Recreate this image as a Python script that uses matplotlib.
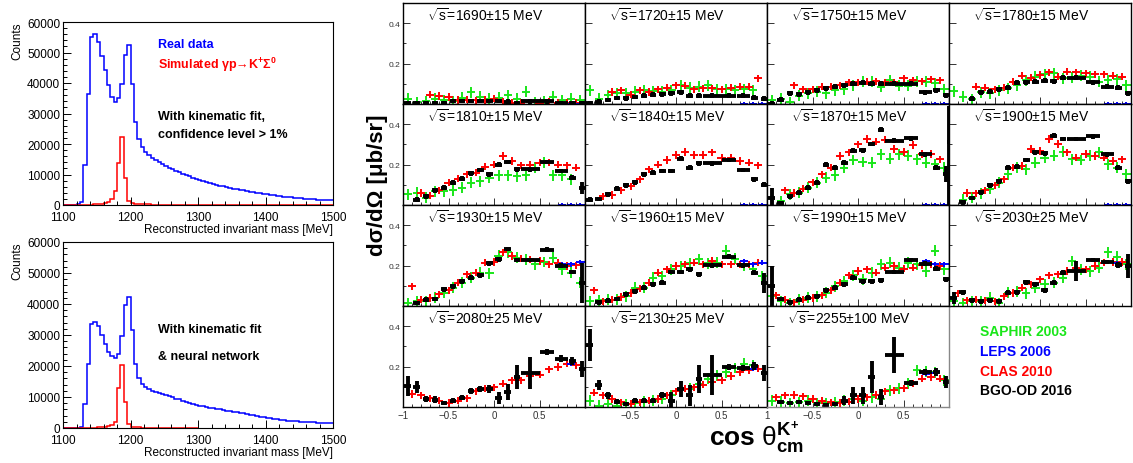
import numpy as np
import matplotlib
matplotlib.use("Agg")
import matplotlib.pyplot as plt
from matplotlib.ticker import MultipleLocator

plt.rcParams['font.family'] = ['Liberation Sans', 'DejaVu Sans']
plt.rcParams['mathtext.fontset'] = 'custom'
plt.rcParams['mathtext.rm'] = 'Liberation Sans'
plt.rcParams['mathtext.it'] = 'Liberation Sans:italic'
plt.rcParams['mathtext.bf'] = 'Liberation Sans:bold'

nan = np.nan

# ---------------- Left: invariant-mass histograms (5 MeV bins) ----------------
mass_edges = np.arange(1100, 1505, 5)
red_bottom_edges = np.arange(1100, 1305, 5)

real_top = [0, 0, 0, 0, 300, 1000, 13000, 36400, 55000, 56100, 53600, 49000, 44100, 39400, 35500,
            33900, 35100, 39600, 49200, 52300, 39700, 27300, 21800, 19100, 17400,
            16300, 15500, 14800, 14100, 13400, 12800, 12200, 11700, 11200, 10700, 10200, 9800, 9400, 9000, 8600,
            8200, 7850, 7500, 7200, 6900, 6600, 6350, 6100, 5850, 5600,
            5400, 5200, 5000, 4800, 4600, 4400, 4200, 4000, 3800, 3600,
            3450, 3300, 3150, 3000, 2900, 2750, 2650, 2500, 2400, 2300,
            2200, 2100, 2000, 1950, 1850, 1800, 1700, 1650, 1550, 1500]
sim_top = [0, 0, 0, 0, 0, 0, 0, 0,
           100, 200, 300, 400, 600, 1000, 2000, 4600, 13900, 22200, 8800, 1200, 500, 350, 250, 200,
           180, 170, 160, 150, 150, 140, 140, 130, 130, 120, 120, 110, 110, 100, 100, 100, 90, 90, 90, 80,
           80, 80, 70, 70, 70, 60, 60, 60, 60, 50, 50, 50, 50, 50, 40, 40, 40, 40, 40, 40,
           30, 30, 30, 30, 30, 30, 30, 30, 20, 20, 20, 20, 20, 20, 20, 20]
real_bottom = [0, 0, 0, 0, 100, 200, 7700, 20800, 33700, 34300, 32900, 30000, 27200, 24600, 23300,
               22500, 24000, 29700, 39600, 42400, 31700, 20600, 16000, 14200, 13100,
               12500, 12000, 11600, 11200, 10900, 10600, 10200, 9900, 9500, 9200, 8800, 8500, 8100, 7800, 7500,
               7200, 7000, 6800, 6600, 6400, 6200, 6000, 5800, 5600, 5450,
               5300, 5100, 4900, 4700, 4500, 4300, 4100, 3900, 3700, 3500,
               3300, 3150, 3000, 2850, 2700, 2550, 2400, 2300, 2200, 2100,
               2000, 1950, 1900, 1850, 1800, 1750, 1700, 1650, 1600, 1500]
sim_bottom = [0, 0, 0, 0, 0, 0, 0, 0,
              100, 150, 250, 350, 450, 600, 900, 2000, 12800, 20400, 8300, 1300, 400, 250, 200, 150,
              130, 120, 110, 100, 100, 90, 90, 80, 80, 70, 70, 60, 60, 50, 50, 50]

# ---------------- Right: differential cross sections ----------------
energies = ['1690±15', '1720±15', '1750±15', '1780±15',
            '1810±15', '1840±15', '1870±15', '1900±15',
            '1930±15', '1960±15', '1990±15', '2030±25',
            '2080±25', '2130±25', '2255±100']

clas_cos = [-0.9, -0.8, -0.7, -0.6, -0.5, -0.4, -0.3, -0.2, -0.1, 0.0,
            0.1, 0.2, 0.3, 0.4, 0.5, 0.6, 0.7, 0.8, 0.9]
saphir_cos = [-0.95, -0.85, -0.75, -0.65, -0.55, -0.45, -0.35, -0.25, -0.15, -0.05,
              0.05, 0.15, 0.25, 0.35, 0.45, 0.55, 0.65, 0.75, 0.85, 0.95]
leps_cos = [0.75, 0.85, 0.95]
bgood_cos = [-0.95, -0.85, -0.75, -0.65, -0.55, -0.45, -0.35, -0.25, -0.15, -0.05,
             0.05, 0.15, 0.25, 0.40, 0.58, 0.74, 0.86, 0.965]
bgood_hw = [0.035, 0.035, 0.035, 0.035, 0.035, 0.035, 0.035, 0.035, 0.035, 0.035,
            0.035, 0.035, 0.035, 0.10, 0.08, 0.07, 0.04, 0.03]

clas_1690 = [nan, nan, 0.047, 0.040, 0.035, 0.020, 0.022, 0.018, 0.020, 0.027, 0.012, 0.006, 0.005, 0.008, 0.005, 0.010, 0.006, 0.005, 0.005]
clas_1720 = [nan, nan, 0.060, 0.068, 0.047, 0.068, 0.060, 0.073, 0.080, 0.093, 0.090, 0.073, 0.077, 0.077, 0.073, 0.080, 0.085, 0.085, 0.127]
clas_1750 = [nan, nan, 0.093, 0.073, 0.073, 0.085, 0.085, 0.093, 0.107, 0.108, 0.110, 0.113, 0.107, 0.107, 0.127, 0.118, 0.113, 0.123, 0.118]
clas_1780 = [nan, nan, 0.085, 0.080, 0.073, 0.080, 0.110, 0.140, 0.130, 0.143, 0.157, 0.135, 0.160, 0.157, 0.152, 0.147, 0.147, 0.140, 0.135]
clas_1810 = [nan, 0.060, 0.047, 0.073, 0.110, 0.130, 0.152, 0.160, 0.190, 0.200, 0.243, 0.218, 0.197, 0.200, 0.210, 0.210, 0.200, 0.197, 0.185]
clas_1840 = [nan, 0.043, 0.050, 0.073, 0.093, 0.127, 0.177, 0.200, 0.223, 0.247, 0.263, 0.247, 0.247, 0.260, 0.235, 0.235, 0.218, 0.210, 0.197]
clas_1870 = [nan, 0.073, 0.060, 0.080, 0.113, 0.152, 0.185, 0.243, 0.260, 0.300, 0.327, 0.313, 0.323, 0.277, 0.263, 0.297, 0.252, 0.252, 0.227]
clas_1900 = [nan, 0.060, 0.057, 0.073, 0.097, 0.127, 0.185, 0.193, 0.277, 0.268, 0.327, 0.302, 0.260, 0.235, 0.252, 0.243, 0.235, 0.218, 0.227]
clas_1930 = [0.098, 0.032, 0.040, 0.057, 0.078, 0.115, 0.157, 0.165, 0.215, 0.218, 0.265, 0.248, 0.235, 0.232, 0.223, 0.207, 0.215, 0.198, 0.202]
clas_1960 = [0.078, 0.023, 0.032, 0.045, 0.065, 0.085, 0.115, 0.165, 0.182, 0.198, 0.207, 0.215, 0.207, 0.223, 0.207, 0.207, 0.207, 0.207, 0.215]
clas_1990 = [0.052, 0.032, 0.018, 0.032, 0.040, 0.052, 0.078, 0.115, 0.152, 0.173, 0.182, 0.165, 0.190, 0.198, 0.185, 0.190, 0.202, 0.207, 0.198]
clas_2030 = [0.062, 0.028, 0.032, 0.028, 0.023, 0.048, 0.065, 0.090, 0.107, 0.132, 0.152, 0.157, 0.173, 0.190, 0.182, 0.198, 0.215, 0.218, 0.218]
clas_2080 = [0.065, 0.057, 0.043, 0.032, 0.020, 0.032, 0.043, 0.077, 0.090, 0.098, 0.115, 0.132, 0.132, 0.153, 0.160, 0.187, 0.198, 0.215, 0.207]
clas_2130 = [0.070, 0.057, 0.040, 0.023, 0.015, 0.023, 0.032, 0.040, 0.057, 0.077, 0.090, 0.098, 0.110, 0.123, 0.132, 0.153, 0.173, 0.182, 0.190]
clas_2255 = [0.048, 0.057, 0.060, 0.053, 0.040, 0.032, 0.023, 0.020, 0.027, 0.040, 0.048, 0.060, 0.077, 0.082, 0.093, 0.115, 0.140, 0.148, 0.140]

saphir_1690 = [0.027, 0.010, 0.015, 0.027, 0.020, 0.015, 0.030, 0.057, 0.035, 0.027, 0.030, 0.043, 0.027, 0.060, 0.010, 0.015, 0.035, 0.018, 0.027, 0.018]
saphir_1720 = [0.068, 0.027, 0.043, 0.052, 0.052, 0.060, 0.068, 0.063, 0.060, 0.068, 0.093, 0.080, 0.085, 0.093, 0.073, 0.073, 0.068, 0.073, 0.068, nan]
saphir_1750 = [0.018, 0.027, 0.010, 0.040, 0.052, 0.060, 0.052, 0.068, 0.073, 0.093, 0.110, 0.110, 0.085, 0.118, 0.090, 0.090, 0.113, 0.110, 0.102, 0.073]
saphir_1780 = [0.063, 0.035, 0.023, 0.057, 0.052, 0.068, 0.077, 0.093, 0.118, 0.135, 0.147, 0.152, 0.127, 0.130, 0.140, 0.135, 0.110, 0.118, 0.123, 0.093]
saphir_1810 = [0.052, 0.060, 0.035, 0.068, 0.068, 0.073, 0.085, 0.110, 0.118, 0.135, 0.147, 0.147, 0.143, 0.147, 0.185, 0.210, 0.147, 0.147, 0.127, nan]
saphir_1840 = [nan] * 20
saphir_1870 = [nan, 0.018, 0.052, 0.060, 0.085, 0.110, 0.135, 0.147, 0.185, 0.223, 0.213, 0.210, 0.252, 0.230, 0.252, 0.243, 0.227, 0.210, 0.202, 0.185]
saphir_1900 = [nan, 0.027, 0.035, 0.057, 0.080, 0.110, 0.152, 0.185, 0.177, 0.210, 0.235, 0.243, 0.263, 0.227, 0.223, 0.243, 0.260, 0.202, 0.185, 0.152]
saphir_1930 = [0.015, 0.023, 0.023, 0.040, 0.065, 0.090, 0.115, 0.140, 0.165, 0.162, 0.248, 0.265, 0.240, 0.232, 0.207, 0.218, 0.240, 0.182, 0.165, 0.115]
saphir_1960 = [0.023, 0.028, 0.032, 0.032, 0.048, 0.090, 0.090, 0.140, 0.148, 0.182, 0.198, 0.212, 0.232, 0.212, 0.215, 0.273, 0.235, 0.202, 0.182, 0.148]
saphir_1990 = [0.048, 0.023, 0.015, 0.032, 0.040, 0.048, 0.065, 0.098, 0.123, 0.152, 0.132, 0.165, 0.207, 0.215, 0.190, 0.215, 0.207, 0.173, 0.273, 0.182]
saphir_2030 = [0.023, 0.015, 0.023, 0.023, 0.040, 0.015, 0.065, 0.073, 0.062, 0.090, 0.107, 0.115, 0.140, 0.223, 0.182, 0.173, 0.190, 0.265, 0.245, 0.207]
saphir_2080 = [nan] * 20
saphir_2130 = [0.032, 0.007, 0.015, 0.007, 0.015, 0.020, 0.027, 0.032, 0.040, 0.057, 0.090, 0.090, 0.115, 0.140, 0.157, 0.173, 0.193, 0.215, 0.207, nan]
saphir_2255 = [0.032, 0.027, 0.020, 0.023, 0.032, 0.020, 0.020, 0.023, 0.032, 0.040, 0.032, 0.048, 0.040, 0.082, 0.093, 0.115, 0.182, 0.177, 0.173, 0.132]

leps_1690 = [0.0, 0.0, 0.0]
leps_1720 = [0.0, 0.0, 0.0]
leps_1750 = [0.0, 0.0, 0.0]
leps_1780 = [0.0, 0.0, 0.0]
leps_1810 = [0.0, 0.0, 0.0]
leps_1840 = [0.0, 0.0, 0.0]
leps_1870 = [0.0, 0.0, 0.0]
leps_1900 = [0.0, 0.0, 0.0]
leps_1930 = [0.207, 0.207, 0.218]
leps_1960 = [0.223, 0.207, 0.215]
leps_1990 = [0.223, 0.207, 0.207]
leps_2030 = [0.218, 0.213, nan]
leps_2080 = [nan, 0.215, nan]
leps_2130 = [nan, 0.190, nan]
leps_2255 = [0.165, 0.170, nan]

bgood_1690 = [0.005, 0.005, 0.005, 0.005, 0.005, 0.015, 0.015, 0.015, 0.015, 0.015, 0.015, 0.012, 0.005, 0.013, 0.013, 0.005, 0.005, 0.005]
bgood_1720 = [0.005, 0.012, 0.020, 0.030, 0.028, 0.035, 0.042, 0.045, 0.048, 0.052, 0.057, 0.040, 0.040, 0.040, 0.040, 0.040, 0.032, 0.027]
bgood_1750 = [0.002, 0.022, 0.052, 0.048, 0.057, 0.068, 0.077, 0.085, 0.093, 0.100, 0.105, 0.100, 0.100, 0.100, 0.100, 0.057, 0.068, 0.043]
bgood_1780 = [nan, nan, 0.027, 0.057, 0.060, 0.073, 0.080, 0.105, 0.107, 0.110, 0.115, 0.112, 0.130, 0.130, 0.107, 0.085, 0.080, 0.052]
bgood_1810 = [nan, 0.027, 0.043, 0.073, 0.085, 0.110, 0.130, 0.157, 0.173, 0.152, 0.200, 0.213, 0.177, 0.177, 0.213, 0.168, 0.135, 0.085]
bgood_1840 = [0.027, 0.030, 0.052, 0.080, 0.097, 0.113, 0.152, 0.160, 0.168, 0.168, 0.230, 0.185, 0.207, 0.207, 0.223, 0.173, 0.127, 0.100]
bgood_1870 = [0.035, 0.010, 0.043, 0.060, 0.085, 0.110, 0.200, 0.185, 0.210, 0.268, 0.270, 0.302, 0.373, 0.318, 0.330, 0.252, 0.185, 0.152]
bgood_1900 = [nan, 0.013, 0.035, 0.063, 0.097, 0.118, 0.185, 0.190, 0.223, 0.260, 0.257, 0.343, 0.327, 0.327, 0.340, 0.252, 0.185, 0.118]
bgood_1930 = [nan, 0.015, 0.032, 0.035, 0.082, 0.098, 0.123, 0.140, 0.152, 0.212, 0.232, 0.282, 0.228, 0.228, 0.278, 0.200, 0.168, 0.115]
bgood_1960 = [nan, 0.018, 0.027, 0.035, 0.057, 0.073, 0.090, 0.107, 0.115, 0.168, 0.168, 0.182, 0.157, 0.202, 0.245, 0.202, 0.165, 0.115]
bgood_1990 = [0.100, 0.035, 0.018, 0.032, 0.040, 0.048, 0.078, 0.090, 0.107, 0.140, 0.123, 0.123, 0.128, 0.168, 0.228, 0.210, 0.185, 0.132]
bgood_2030 = [0.040, 0.068, 0.028, 0.023, 0.028, 0.023, 0.065, 0.068, 0.118, 0.107, 0.078, 0.115, 0.165, 0.173, 0.228, 0.218, 0.202, 0.198]
bgood_2080 = [0.103, 0.098, 0.040, 0.037, 0.020, 0.032, 0.045, 0.077, 0.090, 0.087, 0.043, 0.073, 0.148, 0.170, 0.270, 0.240, 0.227, 0.190]
bgood_2130 = [0.307, 0.107, 0.057, 0.027, 0.015, 0.032, 0.032, 0.032, 0.060, 0.032, 0.090, 0.057, 0.140, 0.157, 0.198, 0.193, 0.203, 0.170]
bgood_2255 = [nan, 0.027, 0.020, 0.023, 0.018, 0.015, 0.010, 0.015, 0.032, 0.057, 0.057, 0.148, 0.048, 0.257, 0.120, 0.173, 0.173, 0.123]

err_small = [0.012] * 18
err_1810 = [0.012] * 17 + [0.03]
err_1870 = [0.05] + [0.012] * 16 + [0.04]
err_1930 = [0.012] * 17 + [0.10]
err_1960 = [0.012] * 17 + [0.05]
err_1990 = [0.10] + [0.012] * 17
err_2030 = [0.03] + [0.012] * 12 + [0.05, 0.012, 0.012, 0.015, 0.06]
err_2080 = [0.05, 0.03, 0.015, 0.015, 0.012, 0.012, 0.012, 0.015, 0.015, 0.02, 0.03, 0.04, 0.06, 0.08, 0.015, 0.015, 0.02, 0.04]
err_2130 = [0.08, 0.025, 0.015, 0.012, 0.012, 0.012, 0.012, 0.012, 0.015, 0.04, 0.04, 0.05, 0.07, 0.10, 0.015, 0.015, 0.02, 0.04]
err_2255 = [0.01, 0.01, 0.01, 0.01, 0.01, 0.01, 0.01, 0.01, 0.02, 0.04, 0.04, 0.08, 0.04, 0.09, 0.015, 0.015, 0.02, 0.03]

# BGO-OD point sitting on the 1870/1900 pad boundary (large error)
edge_cos_1870 = [1.0]
edge_val_1870 = [0.31]
edge_lo_1870 = [0.31]
edge_hi_1870 = [0.18]

clas_list = [clas_1690, clas_1720, clas_1750, clas_1780, clas_1810, clas_1840, clas_1870, clas_1900,
             clas_1930, clas_1960, clas_1990, clas_2030, clas_2080, clas_2130, clas_2255]
saphir_list = [saphir_1690, saphir_1720, saphir_1750, saphir_1780, saphir_1810, saphir_1840, saphir_1870,
               saphir_1900, saphir_1930, saphir_1960, saphir_1990, saphir_2030, saphir_2080, saphir_2130, saphir_2255]
leps_list = [leps_1690, leps_1720, leps_1750, leps_1780, leps_1810, leps_1840, leps_1870, leps_1900,
             leps_1930, leps_1960, leps_1990, leps_2030, leps_2080, leps_2130, leps_2255]
bgood_list = [bgood_1690, bgood_1720, bgood_1750, bgood_1780, bgood_1810, bgood_1840, bgood_1870, bgood_1900,
              bgood_1930, bgood_1960, bgood_1990, bgood_2030, bgood_2080, bgood_2130, bgood_2255]
err_list = [err_small, err_small, err_small, err_small, err_1810, err_small, err_1870, err_small,
            err_1930, err_1960, err_1990, err_2030, err_2080, err_2130, err_2255]

legend_names = ['SAPHIR 2003', 'LEPS 2006', 'CLAS 2010', 'BGO-OD 2016']

GREEN = '#19e619'
BLUE = '#0000ff'
RED = '#ff0000'
BLACK = '#000000'

fig = plt.figure(figsize=(11.33, 4.64), dpi=100)
W, H = 1133.0, 464.0


def add_px(x0, y0, x1, y1):
    return fig.add_axes([x0 / W, 1 - y1 / H, (x1 - x0) / W, (y1 - y0) / H])


# ---- histograms ----
hist_specs = [
    ((63, 23, 333, 206), real_top, sim_top, mass_edges,
     [("Real data", BLUE, 52800), ("Simulated γp→K$^{\\mathbf{+}}$Σ$^{\\mathbf{0}}$", RED, 46300),
      ("With kinematic fit,", BLACK, 29200), ("confidence level > 1%", BLACK, 23300)]),
    ((63, 243, 333, 429), real_bottom, sim_bottom, red_bottom_edges,
     [("With kinematic fit", BLACK, 31900), ("& neural network", BLACK, 23200)]),
]
for box, real, sim, sim_edges, texts in hist_specs:
    ax = add_px(*box)
    ax.stairs(real, mass_edges, color=BLUE, linewidth=1.1, baseline=None)
    ax.stairs(sim, sim_edges, color=RED, linewidth=1.1, baseline=None)
    ax.set_xlim(1100, 1500)
    ax.set_ylim(0, 60000)
    ax.xaxis.set_major_locator(MultipleLocator(100))
    ax.xaxis.set_minor_locator(MultipleLocator(20))
    ax.yaxis.set_major_locator(MultipleLocator(10000))
    ax.yaxis.set_minor_locator(MultipleLocator(2000))
    ax.tick_params(which='both', direction='in', labelsize=8.5, width=0.7)
    ax.tick_params(axis='y', pad=2)
    ax.tick_params(axis='x', pad=4)
    ax.tick_params(which='major', length=6)
    ax.tick_params(which='minor', length=3)
    for s in ax.spines.values():
        s.set_linewidth(0.8)
    ax.set_xlabel('Reconstructed invariant mass [MeV]', loc='right', fontsize=8.5, labelpad=0)
    ax.set_ylabel('Counts', loc='top', fontsize=8.5, labelpad=3)
    for txt, col, yv in texts:
        ax.text(1240, yv, txt, color=col, fontsize=9, fontweight='bold', va='center', ha='left')

# ---- cross-section grid ----
col_x = [403, 585, 767, 949, 1131]
row_y = [4, 105, 206, 307, 408]
for i, lab in enumerate(energies):
    r, c = divmod(i, 4)
    ax = add_px(col_x[c], row_y[r], col_x[c + 1], row_y[r + 1])
    ax.set_xlim(-1, 1)
    ax.set_ylim(0, 0.5)
    ax.errorbar(saphir_cos, saphir_list[i], xerr=0.045, yerr=0.027, fmt='none',
                ecolor=GREEN, elinewidth=1.4, capsize=0)
    ax.errorbar(clas_cos, clas_list[i], xerr=0.045, yerr=0.018, fmt='none',
                ecolor=RED, elinewidth=1.4, capsize=0)
    ax.errorbar(leps_cos, leps_list[i], xerr=0.045, yerr=0.012, fmt='none',
                ecolor=BLUE, elinewidth=1.4, capsize=0)
    ax.errorbar(bgood_cos, bgood_list[i], xerr=bgood_hw, yerr=err_list[i], fmt='none',
                ecolor=BLACK, elinewidth=2.8, capsize=0)
    if lab.startswith('1870'):
        ax.errorbar(edge_cos_1870, edge_val_1870, yerr=[edge_lo_1870, edge_hi_1870], xerr=0.02,
                    fmt='none', ecolor=BLACK, elinewidth=2.8, capsize=0, clip_on=False, zorder=5)
    ax.text(0.45, 0.885, r'$\sqrt{\mathrm{s}}$=' + lab + ' MeV', transform=ax.transAxes,
            ha='center', va='center', fontsize=10)
    ax.xaxis.set_major_locator(MultipleLocator(0.5))
    ax.xaxis.set_minor_locator(MultipleLocator(0.1))
    ax.set_yticks([0.2, 0.4])
    ax.yaxis.set_minor_locator(MultipleLocator(0.1))
    ax.tick_params(which='both', direction='in', width=0.7, colors='#333333', pad=2)
    ax.tick_params(which='major', length=5)
    ax.tick_params(which='minor', length=2.5)
    ax.tick_params(axis='y', labelsize=6)
    ax.tick_params(axis='x', labelsize=7)
    if c != 0:
        ax.tick_params(axis='y', labelleft=False)
    if r == 3:
        ax.set_xticks([-1, -0.5, 0, 0.5])
        if c == 0:
            ax.set_xticklabels(['−1', '−0.5', '0', '0.5'])
        elif c == 1:
            ax.set_xticklabels(['', '−0.5', '0', '0.5'])
        else:
            ax.set_xticklabels(['1', '−0.5', '0', '0.5'])
    else:
        ax.tick_params(axis='x', labelbottom=False)
    for s in ax.spines.values():
        s.set_linewidth(1.0)
        s.set_color('black')
    if lab.startswith('2255'):
        ax.spines['right'].set_color('#888888')
        ax.spines['bottom'].set_color('#888888')

# ---- legend ----
legend_cols = [GREEN, BLUE, RED, BLACK]
legend_y = [332, 352, 372, 391]
for name, col, yy in zip(legend_names, legend_cols, legend_y):
    fig.text(980 / W, 1 - yy / H, name, color=col, fontsize=10, fontweight='bold', ha='left', va='center')

# ---- global axis titles ----
fig.text(377 / W, 1 - 185 / H, 'dσ/dΩ [μb/sr]', rotation=90, ha='center', va='center',
         fontsize=16, fontweight='bold')
fig.text(757 / W, 1 - 438 / H, r'cos $\mathrm{\theta}^{\mathbf{K^{+}}}_{\mathbf{cm}}$', ha='center', va='center',
         fontsize=19, fontweight='bold')

fig.savefig('out.png', dpi=100)
